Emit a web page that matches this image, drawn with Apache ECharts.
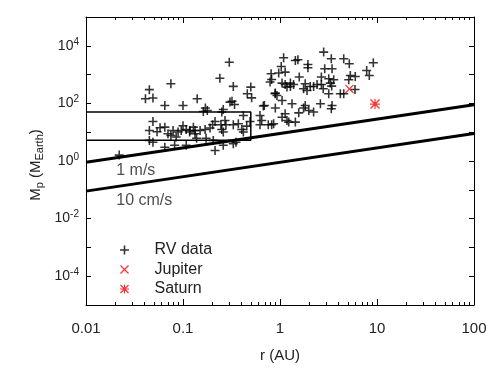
<!DOCTYPE html>
<html>
<head>
<meta charset="utf-8">
<title>RV planets</title>
<script src="https://cdn.jsdelivr.net/npm/echarts@6.0.0/dist/echarts.min.js"></script>
<style>
  html, body { margin: 0; padding: 0; background: #fff; }
  #main { width: 491px; height: 368px; }
</style>
</head>
<body>
<div id="main"></div>
<script>
// RV planets: semi-major axis (AU) and mass (Earth masses)
var rvR = [
  0.022, 0.041, 0.045, 0.049, 0.065, 0.075, 0.10, 0.14, 0.17, 0.24,
  0.30, 0.33, 0.26, 0.32, 0.34, 0.46, 0.50, 0.51, 0.69, 0.81,
  0.82, 0.89, 0.049, 0.045, 0.065, 0.070, 0.079, 0.089, 0.096, 0.108,
  0.117, 0.075, 0.085, 0.045, 0.049, 0.065, 0.082, 0.108, 0.128, 0.118,
  0.133, 0.150, 0.169, 0.190, 0.133, 0.138, 0.173, 0.205, 0.260, 0.330,
  0.214, 0.352, 0.162, 0.178, 0.251, 0.419, 0.622, 0.648, 0.622, 0.757,
  0.821, 0.491, 0.214, 0.271, 0.202, 0.246, 0.277, 0.330, 0.372, 0.454,
  0.251, 0.403, 0.419, 0.260, 0.305, 0.673, 0.058, 0.100, 0.054, 1.09,
  1.44, 1.53, 2.82, 3.38, 4.54, 5.18, 1.03, 1.94, 1.94, 0.97,
  2.89, 3.44, 2.67, 1.58, 5.31, 5.97, 9.16, 7.83, 8.33, 1.05,
  1.13, 1.28, 1.38, 1.18, 1.28, 1.82, 2.05, 2.22, 2.41, 3.18,
  3.58, 3.30, 2.67, 5.11, 2.79, 3.41, 5.93, 0.895, 0.93, 1.75,
  1.90, 3.18, 4.19, 4.54, 1.05, 1.33, 0.895, 1.82, 1.75, 1.98,
  2.22, 2.61, 3.44, 3.38, 1.56, 1.13, 1.05, 1.18, 1.44, 1.23,
  0.86, 0.79, 1.13
];
var rvM = [
  1.6, 145, 300, 153, 85, 480, 85, 145, 69, 745,
  2670, 390, 61, 118, 92, 215, 368, 156, 85, 1070,
  676, 215, 23.5, 11.5, 15, 8.8, 11.5, 10.1, 11.5, 12.4,
  10.1, 7.7, 6.8, 5.2, 4.5, 3.0, 3.5, 3.5, 15, 11.5,
  11.5, 11.5, 12.4, 13.9, 8.8, 6.2, 6.2, 5.2, 3.5, 4.0,
  2.3, 4.5, 52, 57, 50, 38, 38, 25.5, 18.1, 18.1,
  18.1, 23.5, 23.5, 25.5, 18.1, 18.1, 18.1, 18.1, 19.6, 16.3,
  12.4, 12.4, 10.1, 10.1, 111, 81, 14.2, 16.7, 10.3, 3830,
  3090, 3270, 6040, 3540, 3540, 2370, 1910, 2240, 1720, 1130,
  1590, 1590, 820, 820, 930, 860, 2570, 1390, 930, 507,
  453, 507, 453, 368, 386, 480, 386, 386, 453, 715,
  659, 507, 453, 659, 321, 399, 304, 228, 188, 321,
  281, 215, 215, 215, 126, 97, 69, 85, 69, 57,
  50, 97, 85, 65, 47, 44, 33, 25.5, 22.4, 22.4,
  19.6, 550, 1220
];
var jupiter = [5.2, 318];
var saturn = [9.54, 95];

// detection limits (K = 1 m/s and 10 cm/s)
var limitR = [0.01, 100];
var limit1ms = [0.9, 90];
var limit10cms = [0.09, 9];

// thin box
var boxR = [0.01, 0.5, 0.5, 0.01];
var boxM = [50, 50, 5.3, 5.3];

var noteR = [0.0205, 0.0205];
var noteM = [0.45, 0.043];
var noteText = ['1 m/s', '10 cm/s'];

var xTickLabels = ['0.01', '0.1', '1', '10', '100'];

var FONT = 'Liberation Sans';
var TXT = '#222';

var plusPath = 'path://M3.3,0H4.7V3.3H8V4.7H4.7V8H3.3V4.7H0V3.3H3.3Z';
var crossPath = 'path://M0,1L1,0L5,4L9,0L10,1L6,5L10,9L9,10L5,6L1,10L0,9L4,5Z';
var starPath = 'path://M4.4,0H5.6V4.4H10V5.6H5.6V10H4.4V5.6H0V4.4H4.4Z' +
  'M0,1L1,0L5,4L9,0L10,1L6,5L10,9L9,10L5,6L1,10L0,9L4,5Z';

function zip(a, b) {
  return a.map(function (v, i) { return [v, b[i]]; });
}

// minor tick positions (in log10 units) for the x axis
var minorX = [];
for (var d = -2; d < 2; d++) {
  for (var k = 2; k <= 9; k++) minorX.push(d + Math.log10(k));
}

var chart = echarts.init(document.getElementById('main'));

var tickLine = { color: '#000', width: 1 };
function logAxis(pos, min, max, extra) {
  var a = {
    type: 'log', position: pos, min: min, max: max,
    axisLine: { show: true, onZero: false, lineStyle: { color: '#000', width: 1 } },
    axisTick: { show: false }, axisLabel: { show: false },
    splitLine: { show: false }, minorTick: { show: false }
  };
  return Object.assign(a, extra || {});
}
function tickAxis(pos, min, max, len, label, custom) {
  var a = {
    type: 'value', position: pos, min: min, max: max, interval: 1,
    axisLine: { show: false, onZero: false },
    axisTick: { show: true, inside: true, length: len, lineStyle: tickLine },
    axisLabel: label || { show: false },
    splitLine: { show: false }
  };
  if (custom) a.axisTick.customValues = custom;
  return a;
}

var option = {
  animation: false,
  backgroundColor: '#fff',
  textStyle: { fontFamily: FONT },
  grid: { left: 86, right: 17, top: 17, bottom: 63, containLabel: false, outerBoundsMode: 'none' },
  legend: {
    data: ['RV data', 'Jupiter', 'Saturn'],
    orient: 'vertical',
    left: 120, top: 242,
    padding: 0,
    itemWidth: 50, itemHeight: 9, itemGap: 3.5,
    textStyle: { fontFamily: FONT, fontSize: 16, color: TXT }
  },
  xAxis: [
    logAxis('bottom', 0.01, 100, {
      name: 'r (AU)', nameLocation: 'middle', nameGap: 43,
      nameTextStyle: { fontFamily: FONT, fontSize: 15, color: TXT }
    }),
    logAxis('top', 0.01, 100),
    tickAxis('bottom', -2, 2, 6, {
      show: true, margin: 16, fontFamily: FONT, fontSize: 15, color: TXT,
      formatter: function (v) { return xTickLabels[Math.round(v) + 2]; }
    }),
    tickAxis('top', -2, 2, 6),
    tickAxis('bottom', -2, 2, 3, null, minorX),
    tickAxis('top', -2, 2, 3, null, minorX)
  ],
  yAxis: [
    logAxis('left', 1e-5, 1e5, {
      name: 'M{sub|p} (M{sub|Earth})', nameLocation: 'middle', nameGap: 41, nameRotate: 90,
      nameTextStyle: {
        fontFamily: FONT, fontSize: 15, color: TXT, padding: [0, 8, 0, 0],
        rich: { sub: { fontFamily: FONT, fontSize: 11, color: TXT, verticalAlign: 'top', padding: [8, 0, 0, 0] } }
      }
    }),
    logAxis('right', 1e-5, 1e5),
    tickAxis('left', -5, 5, 5, {
      show: true, margin: 7, fontFamily: FONT, color: TXT,
      formatter: function (v) {
        var e = Math.round(v);
        return e % 2 === 0 ? '{b|10}{s|' + e + '}' : '';
      },
      rich: {
        b: { fontFamily: FONT, fontSize: 14, color: TXT },
        s: { fontFamily: FONT, fontSize: 10, color: TXT, verticalAlign: 'bottom', padding: [0, 0, 8, 0] }
      }
    }),
    tickAxis('right', -5, 5, 5)
  ],
  series: [
    {
      name: '1 m/s', type: 'line', xAxisIndex: 0, yAxisIndex: 0,
      data: zip(limitR, limit1ms), showSymbol: false, symbol: 'none', silent: true,
      lineStyle: { color: '#000', width: 3 }
    },
    {
      name: '10 cm/s', type: 'line', xAxisIndex: 0, yAxisIndex: 0,
      data: zip(limitR, limit10cms), showSymbol: false, symbol: 'none', silent: true,
      lineStyle: { color: '#000', width: 3 }
    },
    {
      name: 'box', type: 'line', xAxisIndex: 0, yAxisIndex: 0,
      data: zip(boxR, boxM), showSymbol: false, symbol: 'none', silent: true,
      lineStyle: { color: '#000', width: 1.5 }
    },
    {
      name: 'RV data', type: 'scatter', xAxisIndex: 0, yAxisIndex: 0,
      data: zip(rvR, rvM), symbol: plusPath, symbolSize: 9,
      itemStyle: { color: '#000' }
    },
    {
      name: 'Jupiter', type: 'scatter', xAxisIndex: 0, yAxisIndex: 0,
      data: [jupiter], symbol: crossPath, symbolSize: 9,
      itemStyle: { color: '#ff0000' }
    },
    {
      name: 'Saturn', type: 'scatter', xAxisIndex: 0, yAxisIndex: 0,
      data: [saturn], symbol: starPath, symbolSize: 10,
      itemStyle: { color: '#ff0000' }
    },
    {
      name: 'notes', type: 'scatter', xAxisIndex: 0, yAxisIndex: 0,
      data: zip(noteR, noteM), symbolSize: 0, silent: true,
      label: {
        show: true, position: 'right', distance: 0,
        fontFamily: FONT, fontSize: 16, color: TXT,
        formatter: function (p) { return noteText[p.dataIndex]; }
      }
    }
  ]
};

chart.setOption(option);
</script>
</body>
</html>
